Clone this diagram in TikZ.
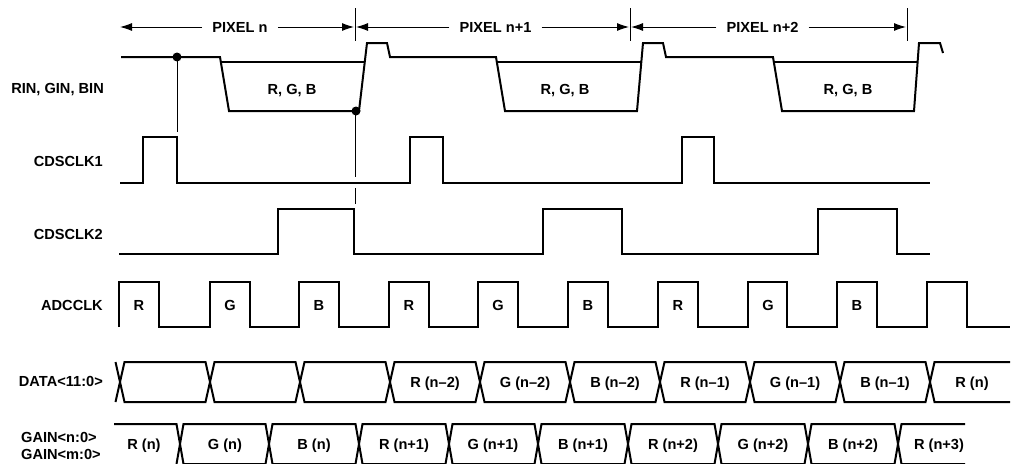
\documentclass[tikz,border=0pt]{standalone}
\usepackage{fontspec}
\setmainfont{Liberation Sans}[BoldFont={Liberation Sans Bold}]
\newfontfamily\lblfont{Liberation Sans Bold}[Ligatures=TeX]
\usetikzlibrary{arrows.meta}
\begin{document}
\begin{tikzpicture}[x=1pt,y=-1pt,
  wave/.style={line width=2pt, line join=miter},
  thinline/.style={line width=1pt},
  lbl/.style={font=\lblfont\fontsize{14.6}{17}\selectfont, inner sep=0pt},
  dimarrow/.style={line width=1pt,-{Latex[length=12pt,width=8pt]}},
  dot/.style={circle, fill=black, inner sep=0pt, minimum size=9pt},
  ]
\useasboundingbox (0,0) rectangle (1011,463);
\clip (0,0) rectangle (1011,463);

% ---------- left labels ----------
\node[lbl,anchor=base east] (lrin) at (104,93) {RIN, GIN, BIN};
\node[lbl,anchor=base east] (lcds1) at (103,166) {CDSCLK1};
\node[lbl,anchor=base east] (lcds2) at (103,239) {CDSCLK2};
\node[lbl,anchor=base east] (ladc) at (103,310) {ADCCLK};
\node[lbl,anchor=base east] (ldata) at (103,386) {DATA<11:0>};
\node[lbl,anchor=west,align=left] (lgain) at (21,445.5) {GAIN<n:0>\\GAIN<m:0>};

% ---------- pixel dimension arrows ----------
\coordinate (a0) at (120,27);
\coordinate (b0) at (354,27);
\coordinate (c1) at (356,27);
\coordinate (b1) at (629,27);
\coordinate (c2) at (631,27);
\coordinate (b2) at (906,27);
\draw[thinline] (355,8) -- (355,41);
\draw[thinline] (630,8) -- (630,41);
\draw[thinline] (907,8) -- (907,41);
\node[lbl, inner xsep=10pt, anchor=base] (p1) at (240,32.5) {PIXEL n};
\node[lbl, inner xsep=10pt, anchor=base] (p2) at (495.5,32.5) {PIXEL n+1};
\node[lbl, inner xsep=10pt, anchor=base] (p3) at (762.5,32.5) {PIXEL n+2};
\draw[dimarrow] (p1.west |- a0) -- (a0);
\draw[dimarrow] (p1.east |- a0) -- (b0);
\draw[dimarrow] (p2.west |- a0) -- (c1);
\draw[dimarrow] (p2.east |- a0) -- (b1);
\draw[dimarrow] (p3.west |- a0) -- (c2);
\draw[dimarrow] (p3.east |- a0) -- (b2);

% ---------- RIN, GIN, BIN ----------
\draw[wave] (121,57) -- (220,57) -- (229,111) -- (359,111) -- (367,43) -- (387,43) -- (390,57)
  -- (496,57) -- (505,111) -- (637,111) -- (643,43) -- (663,43) -- (666,57)
  -- (773,57) -- (782,111) -- (914,111) -- (919,43) -- (940,43) -- (943,53);
\draw[wave] (220.8,62) -- (364.8,62);
\draw[wave] (496.8,62) -- (641.3,62);
\draw[wave] (773.8,62) -- (917.6,62);
\node[lbl,anchor=base] (rgb1) at (292,94) {R, G, B};
\node[lbl,anchor=base] (rgb2) at (565,94) {R, G, B};
\node[lbl,anchor=base] (rgb3) at (848,94) {R, G, B};
\node[dot] (d1) at (177,57) {};
\node[dot] (d2) at (356,111) {};
\draw[thinline] (d1.center) -- (177,132);
\draw[thinline] (355,111) -- (355,177);
\draw[thinline] (355,188) -- (355,204);

% ---------- CDSCLK1 ----------
\draw[wave] (120,183) -- (143,183) -- (143,137) -- (177,137) -- (177,183)
  -- (410,183) -- (410,137) -- (443,137) -- (443,183)
  -- (682,183) -- (682,137) -- (714,137) -- (714,183) -- (930,183);

% ---------- CDSCLK2 ----------
\draw[wave] (119,254) -- (278,254) -- (278,209) -- (354,209) -- (354,254)
  -- (543,254) -- (543,209) -- (622,209) -- (622,254)
  -- (818,254) -- (818,209) -- (897,209) -- (897,254) -- (930,254);

% ---------- ADCCLK ----------
\draw[wave] (119,327) -- (119,282) -- (159,282) -- (159,327)
  -- (210,327) -- (210,282) -- (250,282) -- (250,327)
  -- (299,327) -- (299,282) -- (339,282) -- (339,327)
  -- (389,327) -- (389,282) -- (429,282) -- (429,327)
  -- (478,327) -- (478,282) -- (518,282) -- (518,327)
  -- (568,327) -- (568,282) -- (608,282) -- (608,327)
  -- (658,327) -- (658,282) -- (698,282) -- (698,327)
  -- (748,327) -- (748,282) -- (787,282) -- (787,327)
  -- (837,327) -- (837,282) -- (877,282) -- (877,327)
  -- (927,327) -- (927,282) -- (967,282) -- (967,327) -- (1010,327);
\foreach \x/\t/\n in {139/R/1,230/G/2,319/B/3,409/R/4,498/G/5,588/B/6,678/R/7,768/G/8,857/B/9}
  \node[lbl,anchor=base] (adc\n) at (\x,310) {\t};

% ---------- DATA<11:0> ----------
\draw[wave] (115.5,362) -- (120,382) -- (115.5,402);
\foreach \a/\b in {120/210,210/300,300/390,390/480,480/570,570/660,660/750,750/840,840/930}
  \draw[wave] (\a,382) -- ({\a+4.5},362) -- ({\b-4.5},362) -- (\b,382) -- ({\b-4.5},402) -- ({\a+4.5},402) -- cycle;
\draw[wave] (1010,362) -- (934.5,362) -- (930,382) -- (934.5,402) -- (1010,402);
\foreach \x/\t/\n in {435/R (n–2)/1,525/G (n–2)/2,615/B (n–2)/3,705/R (n–1)/4,795/G (n–1)/5,885/B (n–1)/6,972/R (n)/7}
  \node[lbl,anchor=base] (dat\n) at (\x,387) {\t};

% ---------- GAIN ----------
\draw[wave] (114,424) -- (176.5,424) -- (180,444) -- (176.5,464);
\foreach \a/\b in {180/269,269/359,359/449,449/538,538/628,628/718,718/808,808/898}
  \draw[wave] (\a,444) -- ({\a+3.5},424) -- ({\b-3.5},424) -- (\b,444) -- ({\b-3.5},464) -- ({\a+3.5},464) -- cycle;
\draw[wave] (965,424) -- (901.5,424) -- (898,444) -- (901.5,464) -- (965,464);
\foreach \x/\t/\n in {144/R (n)/1,225/G (n)/2,314/B (n)/3,404/R (n+1)/4,493/G (n+1)/5,583/B (n+1)/6,673/R (n+2)/7,763/G (n+2)/8,853/B (n+2)/9,939/R (n+3)/10}
  \node[lbl,anchor=base] (gn\n) at (\x,449) {\t};
\end{tikzpicture}
\end{document}
